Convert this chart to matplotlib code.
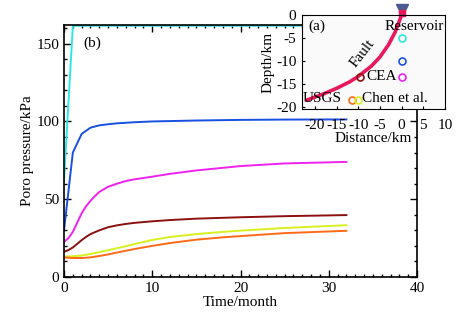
import numpy as np
import matplotlib
matplotlib.use("Agg")
import matplotlib.pyplot as plt
from matplotlib.ticker import MultipleLocator

plt.rcParams['font.family'] = ['Liberation Serif', 'DejaVu Serif']
plt.rcParams['axes.unicode_minus'] = False

# (b) pore pressure vs time, one curve per source location
t_cyan = [0, 1, 32]
p_cyan = [62, 161.5, 161.5]

t_blue = [0, 1, 2, 3, 4, 5, 6, 8, 10, 15, 20, 25, 32]
p_blue = [30, 80, 92, 96, 97.5, 98.2, 98.8, 99.5, 100, 100.6, 101, 101.2, 101.3]

t_mag = [0, 0.5, 1, 1.5, 2, 2.5, 3, 3.5, 4, 5, 6, 7, 8, 10, 12, 15, 20, 25, 32]
p_magenta = [22.5, 25, 29, 35, 41, 45.5, 49, 52, 54.7, 58, 60, 61.7, 62.8, 64.5,
             66.3, 68.5, 71.3, 73, 74]

t_mar = [0, 0.5, 1, 1.5, 2, 2.5, 3, 4, 5, 6, 7, 8, 10, 12, 15, 20, 25, 32]
p_maroon = [16.2, 17.3, 19, 21.3, 23.7, 25.8, 27.6, 30, 32, 33.2, 34.1, 34.8, 35.8,
            36.6, 37.5, 38.4, 39.1, 39.8]

t_low = [0, 1, 2, 3, 4, 5, 6, 7, 8, 10, 12, 15, 18, 20, 25, 32]
p_yellow = [13.2, 13.3, 13.8, 14.8, 16, 17.2, 18.5, 19.8, 21.2, 23.8, 25.7, 27.6,
            29, 29.8, 31.5, 33.3]
p_orange = [12.6, 12.2, 12.2, 12.6, 13.5, 14.5, 15.7, 16.9, 18, 20, 21.8, 24, 25.5,
            26.3, 28.2, 29.7]

# (a) location map
fault_x = [-22, -18, -15, -12, -10, -7, -5, -3, -1.5, 0]
fault_y = [-18.5, -17.1, -15.9, -14.5, -13.3, -11.1, -9.1, -6.4, -3.7, 0]
src_x = [0, 0, 0, -9.5, -11.5, -10]
src_y = [-5, -10, -13.5, -13.5, -18.5, -18.5]
colors = ['#2fe6e6', '#1a50e0', '#ee22ee', '#8b1010', '#ff6a1a', '#d8f020']

fig = plt.figure(figsize=(4.68, 3.19), dpi=100)
ax = fig.add_axes([0.1368, 0.1317, 0.7542, 0.7899])

ax.plot(t_cyan, p_cyan, color=colors[0], lw=1.4)
ax.plot(t_blue, p_blue, color=colors[1], lw=1.4)
ax.plot(t_mag, p_magenta, color=colors[2], lw=1.4)
ax.plot(t_mar, p_maroon, color=colors[3], lw=1.4)
ax.plot(t_low, p_yellow, color=colors[5], lw=1.4)
ax.plot(t_low, p_orange, color=colors[4], lw=1.4)

ax.set_xlim(0, 40)
ax.set_ylim(0, 162)
ax.xaxis.set_major_locator(MultipleLocator(10))
ax.xaxis.set_minor_locator(MultipleLocator(1))
ax.yaxis.set_major_locator(MultipleLocator(50))
ax.yaxis.set_minor_locator(MultipleLocator(10))
ax.tick_params(which='both', direction='in', top=True, right=True, labelsize=11, width=1)
ax.tick_params(which='major', length=5)
ax.tick_params(which='minor', length=2.5)
for s in ax.spines.values():
    s.set_linewidth(1.2)
ax.set_xlabel('Time/month', fontsize=11, labelpad=1)
ax.set_ylabel('Poro pressure/kPa', fontsize=11, labelpad=2)
ax.text(2.2, 150, '(b)', fontsize=11, va='center')

# inset (a)
ins = fig.add_axes([0.645, 0.658, 0.306, 0.295])
ins.set_facecolor('#fafafa')
ins.plot(fault_x, fault_y, color='#e8185a', lw=2.6, solid_capstyle='round')
for x, y, c in zip(src_x, src_y, colors):
    ins.plot(x, y, 'o', mfc='none', mec=c, ms=5, mew=1.2)
ins.plot(0, 1.0, marker='v', ms=9, color='#4b5a90', clip_on=False)
ins.plot(0, 0.4, marker='s', ms=4, color='#e8185a', clip_on=False)
ins.set_xlim(-23, 10)
ins.set_ylim(-20.4, 0)
ins.set_xticks([-20, -15, -10, -5, 0, 5, 10])
ins.set_yticks([0, -5, -10, -15, -20])
ins.tick_params(direction='in', length=2, labelsize=11)
ins.tick_params(axis='x', pad=7)
ins.tick_params(axis='y', pad=4)
ins.set_xlabel('Distance/km', fontsize=11, labelpad=0)
ins.set_ylabel('Depth/km', fontsize=11, labelpad=1)
ins.text(-21.5, -2.5, '(a)', fontsize=11, va='center')
ins.text(9.7, -2.5, 'Reservoir', fontsize=11, va='center', ha='right')
ins.text(-8.2, -13.3, 'CEA', fontsize=11, va='center')
ins.text(-22.8, -18.2, 'USGS', fontsize=11, va='center')
ins.text(-9.2, -18.2, 'Chen et al.', fontsize=11, va='center')
ins.text(-9.0, -8.3, 'Fault', fontsize=11, va='center', ha='center', rotation=52)

fig.savefig('out.png', dpi=100)
